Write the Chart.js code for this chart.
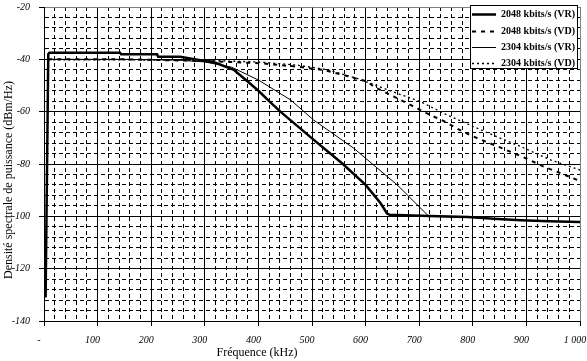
<!DOCTYPE html>
<html>
<head>
<meta charset="utf-8">
<script src="https://cdn.jsdelivr.net/npm/chart.js@4.4.1/dist/chart.umd.min.js"></script>
<style>
  html, body { margin: 0; padding: 0; background: #fff; }
  #wrap { width: 587px; height: 361px; }
</style>
</head>
<body>
<div id="wrap"><canvas id="psdChart" width="587" height="361"></canvas></div>
<script>
const seriesLabels = ["2048 kbits/s (VR)", "2048 kbits/s (VD)", "2304 kbits/s (VR)", "2304 kbits/s (VD)"];

const freqVR2048 = [3, 8, 10, 142, 144, 211, 213, 254, 297, 320, 354, 380, 400, 420, 441, 500, 556, 600, 628, 640, 645, 718, 791, 839, 890, 942, 1000];
const dbVR2048 = [-131, -38, -37.5, -37.5, -38.1, -38.1, -39, -39, -40.5, -41.3, -44, -48.5, -52, -56, -60, -70.2, -79.7, -88, -95, -98.9, -99.4, -99.9, -100.3, -100.9, -101.5, -101.9, -102.2];

const freqVD2048 = [8, 150, 300, 404, 472, 522, 559, 603, 616, 665, 721, 746, 781, 809, 862, 899, 930, 961, 1000];
const dbVD2048 = [-40, -40, -40.6, -41.5, -42.8, -44.1, -46, -48.5, -50.5, -55.5, -61.3, -63.6, -67.6, -70.2, -74.6, -77.8, -80.8, -83.3, -86.5];

const freqVR2304 = [8, 150, 250, 300, 350, 400, 460, 503, 578, 600, 659, 718, 791, 839, 890, 942, 1000];
const dbVR2304 = [-40, -40, -40.3, -41, -43, -47.9, -55.5, -63.2, -74, -77.8, -88, -100, -100.3, -100.9, -101.5, -101.9, -102.2];

const freqVD2304 = [8, 150, 300, 400, 472, 530, 584, 659, 703, 745, 800, 830, 890, 946, 1000];
const dbVD2304 = [-40.2, -40.2, -40.4, -41, -42.2, -44, -47.3, -53, -56.2, -60.6, -65.6, -68.3, -73.4, -78.5, -82.3];

const xTickValues = [0, 100, 200, 300, 400, 500, 600, 700, 800, 900, 1000];
const xTickLabels = ["-", "100", "200", "300", "400", "500", "600", "700", "800", "900", "1 000"];
const yTickValues = [-140, -120, -100, -80, -60, -40, -20];
const yTickLabels = ["-140", "-120", "-100", "-80", "-60", "-40", "-20"];

const xTitle = "Fréquence (kHz)";
const yTitle = "Densité spectrale de puissance (dBm/Hz)";

function toPoints(xs, ys) {
  return xs.map((x, i) => ({ x: x, y: ys[i] }));
}

const serif = "'Liberation Serif', 'Times New Roman', serif";

// grid helpers: majors solid, minors dashed, frame edges grey
function isMajor(ctx, list) {
  return ctx.tick && list.includes(ctx.tick.value);
}

const titlesAndLegend = {
  id: "titlesAndLegend",
  afterDraw(chart) {
    const c = chart.ctx;
    c.save();
    c.fillStyle = "#000";
    c.font = "12px " + serif;
    c.textAlign = "center";
    c.textBaseline = "middle";
    c.fillText(xTitle, 257, 353);
    c.translate(9, 180);
    c.rotate(-Math.PI / 2);
    c.fillText(yTitle, 0, 0);
    c.restore();

    // legend box inside the plot, top right
    c.save();
    const bx = 470, by = 5, bw = 107, bh = 63;
    c.fillStyle = "#fff";
    c.fillRect(bx, by, bw, bh);
    c.strokeStyle = "#000";
    c.lineWidth = 1;
    c.strokeRect(bx + 0.5, by + 0.5, bw, bh);
    const rows = [14, 31, 47, 63];
    c.font = "bold 10px " + serif;
    c.textAlign = "right";
    c.textBaseline = "middle";
    chart.data.datasets.forEach((ds, i) => {
      c.beginPath();
      c.setLineDash(ds.borderDash || []);
      c.lineWidth = ds.borderWidth;
      c.strokeStyle = ds.borderColor;
      c.moveTo(472, rows[i] + 0.5);
      c.lineTo(496, rows[i] + 0.5);
      c.stroke();
      c.setLineDash([]);
      c.fillStyle = "#000";
      c.fillText(ds.label, 575, rows[i]);
    });
    c.restore();
  }
};

new Chart(document.getElementById("psdChart"), {
  type: "line",
  data: {
    datasets: [
      { label: seriesLabels[0], data: toPoints(freqVR2048, dbVR2048), borderColor: "#000", borderWidth: 2.5 },
      { label: seriesLabels[1], data: toPoints(freqVD2048, dbVD2048), borderColor: "#000", borderWidth: 2, borderDash: [4, 5] },
      { label: seriesLabels[2], data: toPoints(freqVR2304, dbVR2304), borderColor: "#000", borderWidth: 1 },
      { label: seriesLabels[3], data: toPoints(freqVD2304, dbVD2304), borderColor: "#000", borderWidth: 1.3, borderDash: [2, 3] }
    ]
  },
  options: {
    responsive: false,
    animation: false,
    devicePixelRatio: 1,
    layout: { padding: 0 },
    elements: { point: { radius: 0 }, line: { tension: 0 } },
    plugins: {
      legend: { display: false },
      tooltip: { enabled: false }
    },
    scales: {
      x: {
        type: "linear",
        min: 0,
        max: 1000,
        afterFit(s) { s.height = 40; s.paddingLeft = 0; s.paddingRight = 7; },
        ticks: {
          stepSize: 20,
          autoSkip: false,
          maxRotation: 0,
          padding: 8,
          labelOffset: -5,
          color: "#000",
          font: { family: serif, size: 10, style: "italic" },
          callback: (v) => {
            const i = xTickValues.indexOf(v);
            return i >= 0 ? xTickLabels[i] : "";
          }
        },
        grid: {
          tickLength: 5,
          color: (ctx) => (ctx.tick && ctx.tick.value === 1000) ? "#808080" : "#000",
          lineWidth: 1,
          tickColor: (ctx) => isMajor(ctx, xTickValues) ? "#000" : "rgba(0,0,0,0)"
        },
        border: {
          color: "#000",
          dash: (ctx) => (ctx.tick && !xTickValues.includes(ctx.tick.value)) ? [4, 3] : []
        }
      },
      y: {
        min: -140,
        max: -20,
        afterFit(s) { s.width = 44; s.paddingTop = 7; s.paddingBottom = 0; },
        ticks: {
          stepSize: 4,
          autoSkip: false,
          padding: 9,
          color: "#000",
          font: { family: serif, size: 10, style: "italic" },
          callback: (v) => {
            const i = yTickValues.indexOf(v);
            return i >= 0 ? yTickLabels[i] : "";
          }
        },
        grid: {
          tickLength: 5,
          color: (ctx) => (ctx.tick && ctx.tick.value === -20) ? "#808080" : "#000",
          lineWidth: 1,
          tickColor: (ctx) => isMajor(ctx, yTickValues) ? "#000" : "rgba(0,0,0,0)"
        },
        border: {
          color: "#000",
          dash: (ctx) => (ctx.tick && !yTickValues.includes(ctx.tick.value)) ? [4, 3] : []
        }
      }
    }
  },
  plugins: [titlesAndLegend]
});
</script>
</body>
</html>
